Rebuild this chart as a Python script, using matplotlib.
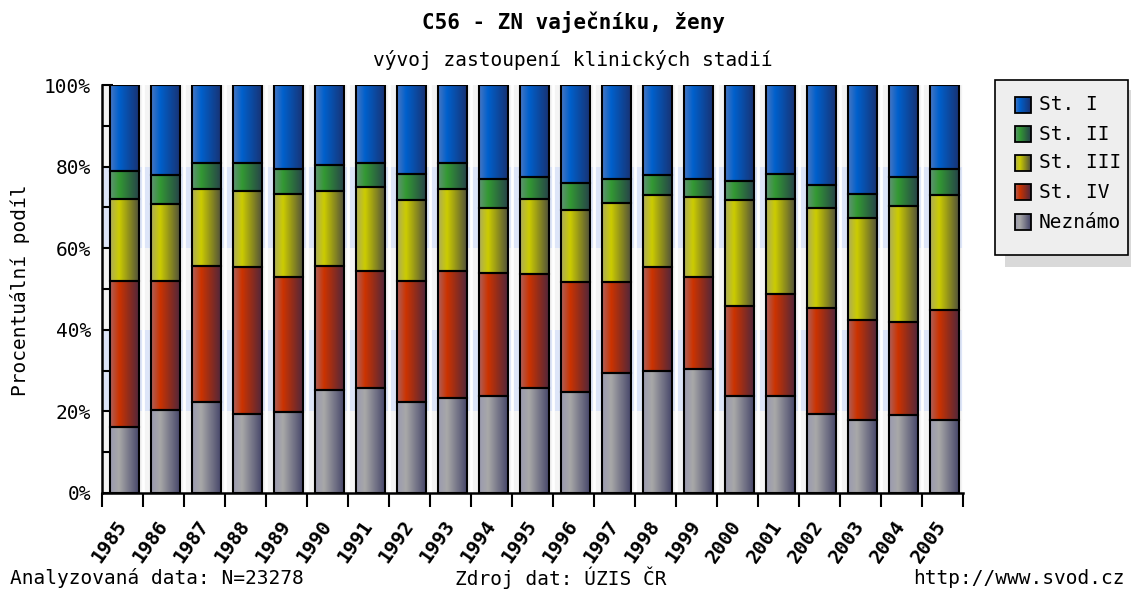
import numpy as np
import matplotlib
matplotlib.use('Agg')
from matplotlib import pyplot as plt
from matplotlib.colors import to_rgb
from matplotlib.patches import Rectangle
from matplotlib.transforms import ScaledTranslation

# podily klinickych stadii v %
years = [str(y) for y in range(1985, 2006)]
neznamo = [16.1, 20.4, 22.4, 19.4, 19.9, 25.2, 25.7, 22.2, 23.3, 23.8, 25.7,
           24.7, 29.5, 30.0, 30.5, 23.8, 23.8, 19.4, 18.0, 19.0, 18.0]
st4 = [35.9, 31.6, 33.3, 36.0, 33.1, 30.5, 28.7, 29.8, 31.1, 30.1, 27.9,
       26.9, 22.1, 25.3, 22.5, 22.0, 24.9, 25.9, 24.4, 22.9, 26.8]
st3 = [20.1, 18.8, 18.8, 18.7, 20.2, 18.4, 20.6, 19.7, 20.1, 15.9, 18.5,
       17.7, 19.6, 17.8, 19.6, 25.9, 23.4, 24.5, 24.9, 28.4, 28.3]
st2 = [6.8, 7.1, 6.3, 6.7, 6.1, 6.3, 5.8, 6.6, 6.3, 7.1, 5.4,
       6.7, 5.7, 4.8, 4.3, 4.8, 6.2, 5.8, 5.9, 7.2, 6.3]
st1 = [21.1, 22.1, 19.2, 19.2, 20.7, 19.6, 19.2, 21.7, 19.2, 23.1, 22.5,
       24.0, 23.1, 22.1, 23.1, 23.5, 21.7, 24.4, 26.8, 22.5, 20.6]

labels = ['Neznámo', 'St. IV', 'St. III', 'St. II', 'St. I']
values = [neznamo, st4, st3, st2, st1]
colors = ['#a8a8a8', '#cc3300', '#cccc00', '#339933', '#0060cc']

FONT = 'DejaVu Sans Mono'
W, H = 1131, 590


def gradient(color, n=64):
    c = np.array(to_rgb(color))
    left = c * 0.5 + np.array([0.55, 0.55, 0.72]) * 0.5
    right = c * 0.25 + np.array([0.13, 0.13, 0.32]) * 0.75
    out = np.empty((1, n, 3))
    for i, t in enumerate(np.linspace(0, 1, n)):
        if t < 0.3:
            f = t / 0.3
            out[0, i] = left * (1 - f) + c * f
        else:
            f = (t - 0.3) / 0.7
            out[0, i] = c * (1 - f) + right * f
    return out


fig = plt.figure(figsize=(W / 100, H / 100), dpi=100)
ax = fig.add_axes([102 / W, 97 / H, 861 / W, 408 / H])

# pozadi - pruhy
for k in range(5):
    ax.axhspan(k * 20, k * 20 + 20, color='#f4f4f4' if k % 2 == 0 else '#dde5f8', zorder=0, lw=0)
for k in range(len(years) + 1):
    ax.axvline(k - 0.5, color='white', lw=2, zorder=0.5)

x = np.arange(len(years)) + 0.05
bottom = np.zeros(len(years))
for name, vals, col in zip(labels, values, colors):
    bars = ax.bar(x, vals, 0.72, bottom=bottom, facecolor='none',
                  edgecolor='black', lw=1.5, zorder=3)
    grad = gradient(col)
    for r in bars:
        x0, y0 = r.get_x(), r.get_y()
        im = ax.imshow(grad, extent=[x0, x0 + r.get_width(), y0, y0 + r.get_height()],
                       aspect='auto', interpolation='bilinear', zorder=2)
        im.set_clip_path(r)
    bottom += np.array(vals)

ax.set_xlim(-0.5, len(years) - 0.5)
ax.set_ylim(0, 100)
for s in ['top', 'right']:
    ax.spines[s].set_visible(False)
for s in ['left', 'bottom']:
    ax.spines[s].set_linewidth(1.8)
    ax.spines[s].set_zorder(4)

ax.set_yticks(range(0, 101, 20))
ax.set_yticklabels([f'{v}%' for v in range(0, 101, 20)], fontfamily=FONT, fontsize=14)
ax.set_yticks(range(10, 100, 20), minor=True)
ax.tick_params(axis='y', which='both', direction='in', length=8, width=1.5, pad=8)

ax.set_xticks(np.arange(len(years)))
ax.set_xticklabels(years, rotation=55, ha='right', va='center', rotation_mode='anchor',
                   fontfamily=FONT, fontsize=14, fontweight='bold')
shift = ScaledTranslation(-7 / 72, 0, fig.dpi_scale_trans)
for lab in ax.get_xticklabels():
    lab.set_transform(lab.get_transform() + shift)
ax.set_xticks(np.arange(len(years) + 1) - 0.5, minor=True)
ax.tick_params(axis='x', which='major', length=0, pad=21)
ax.tick_params(axis='x', which='minor', direction='out', length=10, width=1.5)

# prekryvna osa v pixelech pro texty a legendu
ov = fig.add_axes([0, 0, 1, 1], zorder=5)
ov.set_xlim(0, W)
ov.set_ylim(H, 0)
ov.axis('off')

ov.text(573, 22, 'C56 - ZN vaječníku, ženy', ha='center', va='center',
        fontfamily=FONT, fontsize=15, fontweight='bold')
ov.text(573, 60, 'vývoj zastoupení klinických stadií', ha='center', va='center',
        fontfamily=FONT, fontsize=14)
ov.text(20, 290, 'Procentuální podíl', ha='center', va='center', rotation=90,
        fontfamily=FONT, fontsize=14)
ov.text(10, 578, 'Analyzovaná data: N=23278', ha='left', va='center', fontfamily=FONT, fontsize=14)
ov.text(455, 578, 'Zdroj dat: ÚZIS ČR', ha='left', va='center', fontfamily=FONT, fontsize=14)
ov.text(1125, 578, 'http://www.svod.cz', ha='right', va='center', fontfamily=FONT, fontsize=14)

# legenda
ov.add_patch(Rectangle((1005, 90), 126, 177, facecolor='#d9d9d9', lw=0, zorder=1))
ov.add_patch(Rectangle((995, 80), 133, 175, facecolor='#eeeeee', edgecolor='black', lw=1.2, zorder=2))
rows = [105, 134, 163, 192, 222]
for yy, name, col in zip(rows, labels[::-1], colors[::-1]):
    sq = Rectangle((1015, yy - 8), 16, 16, facecolor='none', edgecolor='black', lw=1.3, zorder=4)
    ov.add_patch(sq)
    ov.imshow(gradient(col), extent=[1015, 1031, yy + 8, yy - 8], aspect='auto',
              interpolation='bilinear', zorder=3)
    ov.text(1039, yy, name, ha='left', va='center', fontfamily=FONT, fontsize=14, zorder=4)
ov.set_xlim(0, W)
ov.set_ylim(H, 0)

fig.savefig('out.png', dpi=100)
